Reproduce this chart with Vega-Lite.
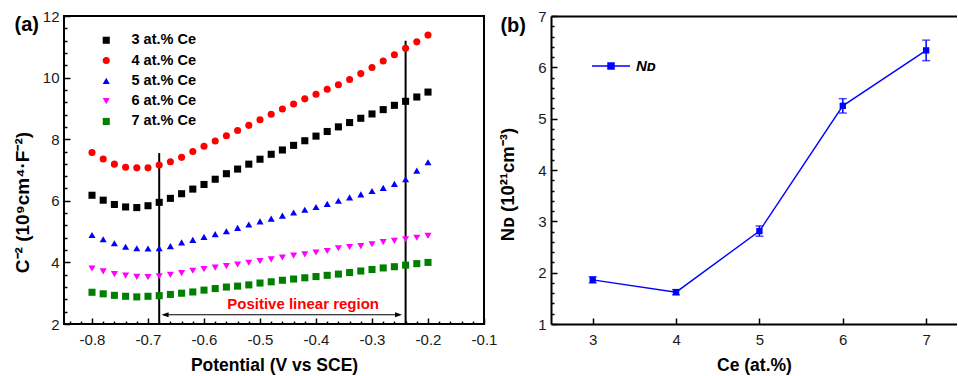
{
  "$schema": "https://vega.github.io/schema/vega-lite/v6.json",
  "padding": {"left": 12, "top": 8, "right": 0, "bottom": 0},
  "autosize": {"type": "pad"},
  "spacing": 0,
  "background": "white",
  "config": {
    "font": "Liberation Sans",
    "axis": {
      "grid": false,
      "domainColor": "#000000",
      "domainWidth": 2,
      "tickColor": "#000000",
      "tickWidth": 1.5,
      "labelFont": "Liberation Sans",
      "labelFontSize": 15,
      "labelColor": "#1a1a1a",
      "titleFont": "Liberation Sans",
      "titleFontSize": 17.5,
      "titleFontWeight": "bold",
      "titleColor": "#000000"
    },
    "legend": {"labelFont": "Liberation Sans", "labelColor": "#000000"}
  },
  "datasets": {
    "cv": [
      {"s": "3 at.% Ce", "v": -0.80, "c": 6.18}, {"s": "3 at.% Ce", "v": -0.78, "c": 6.02}, {"s": "3 at.% Ce", "v": -0.76, "c": 5.88},
      {"s": "3 at.% Ce", "v": -0.74, "c": 5.80}, {"s": "3 at.% Ce", "v": -0.72, "c": 5.78}, {"s": "3 at.% Ce", "v": -0.70, "c": 5.84},
      {"s": "3 at.% Ce", "v": -0.68, "c": 5.95}, {"s": "3 at.% Ce", "v": -0.66, "c": 6.08}, {"s": "3 at.% Ce", "v": -0.64, "c": 6.23},
      {"s": "3 at.% Ce", "v": -0.62, "c": 6.38}, {"s": "3 at.% Ce", "v": -0.60, "c": 6.53}, {"s": "3 at.% Ce", "v": -0.58, "c": 6.70},
      {"s": "3 at.% Ce", "v": -0.56, "c": 6.88}, {"s": "3 at.% Ce", "v": -0.54, "c": 7.03}, {"s": "3 at.% Ce", "v": -0.52, "c": 7.19},
      {"s": "3 at.% Ce", "v": -0.50, "c": 7.35}, {"s": "3 at.% Ce", "v": -0.48, "c": 7.51}, {"s": "3 at.% Ce", "v": -0.46, "c": 7.65},
      {"s": "3 at.% Ce", "v": -0.44, "c": 7.80}, {"s": "3 at.% Ce", "v": -0.42, "c": 7.95}, {"s": "3 at.% Ce", "v": -0.40, "c": 8.10},
      {"s": "3 at.% Ce", "v": -0.38, "c": 8.25}, {"s": "3 at.% Ce", "v": -0.36, "c": 8.40}, {"s": "3 at.% Ce", "v": -0.34, "c": 8.54},
      {"s": "3 at.% Ce", "v": -0.32, "c": 8.68}, {"s": "3 at.% Ce", "v": -0.30, "c": 8.82}, {"s": "3 at.% Ce", "v": -0.28, "c": 8.96},
      {"s": "3 at.% Ce", "v": -0.26, "c": 9.10}, {"s": "3 at.% Ce", "v": -0.24, "c": 9.23}, {"s": "3 at.% Ce", "v": -0.22, "c": 9.37},
      {"s": "3 at.% Ce", "v": -0.20, "c": 9.53},
      {"s": "4 at.% Ce", "v": -0.80, "c": 7.57}, {"s": "4 at.% Ce", "v": -0.78, "c": 7.36}, {"s": "4 at.% Ce", "v": -0.76, "c": 7.19},
      {"s": "4 at.% Ce", "v": -0.74, "c": 7.09}, {"s": "4 at.% Ce", "v": -0.72, "c": 7.07}, {"s": "4 at.% Ce", "v": -0.70, "c": 7.07},
      {"s": "4 at.% Ce", "v": -0.68, "c": 7.16}, {"s": "4 at.% Ce", "v": -0.66, "c": 7.27}, {"s": "4 at.% Ce", "v": -0.64, "c": 7.41},
      {"s": "4 at.% Ce", "v": -0.62, "c": 7.60}, {"s": "4 at.% Ce", "v": -0.60, "c": 7.77}, {"s": "4 at.% Ce", "v": -0.58, "c": 7.94},
      {"s": "4 at.% Ce", "v": -0.56, "c": 8.11}, {"s": "4 at.% Ce", "v": -0.54, "c": 8.28}, {"s": "4 at.% Ce", "v": -0.52, "c": 8.45},
      {"s": "4 at.% Ce", "v": -0.50, "c": 8.63}, {"s": "4 at.% Ce", "v": -0.48, "c": 8.81}, {"s": "4 at.% Ce", "v": -0.46, "c": 8.98},
      {"s": "4 at.% Ce", "v": -0.44, "c": 9.14}, {"s": "4 at.% Ce", "v": -0.42, "c": 9.31}, {"s": "4 at.% Ce", "v": -0.40, "c": 9.46},
      {"s": "4 at.% Ce", "v": -0.38, "c": 9.62}, {"s": "4 at.% Ce", "v": -0.36, "c": 9.77}, {"s": "4 at.% Ce", "v": -0.34, "c": 9.94},
      {"s": "4 at.% Ce", "v": -0.32, "c": 10.13}, {"s": "4 at.% Ce", "v": -0.30, "c": 10.33}, {"s": "4 at.% Ce", "v": -0.28, "c": 10.54},
      {"s": "4 at.% Ce", "v": -0.26, "c": 10.74}, {"s": "4 at.% Ce", "v": -0.24, "c": 10.95}, {"s": "4 at.% Ce", "v": -0.22, "c": 11.16},
      {"s": "4 at.% Ce", "v": -0.20, "c": 11.38},
      {"s": "5 at.% Ce", "v": -0.80, "c": 4.89}, {"s": "5 at.% Ce", "v": -0.78, "c": 4.75}, {"s": "5 at.% Ce", "v": -0.76, "c": 4.62},
      {"s": "5 at.% Ce", "v": -0.74, "c": 4.51}, {"s": "5 at.% Ce", "v": -0.72, "c": 4.46}, {"s": "5 at.% Ce", "v": -0.70, "c": 4.45},
      {"s": "5 at.% Ce", "v": -0.68, "c": 4.46}, {"s": "5 at.% Ce", "v": -0.66, "c": 4.53}, {"s": "5 at.% Ce", "v": -0.64, "c": 4.65},
      {"s": "5 at.% Ce", "v": -0.62, "c": 4.73}, {"s": "5 at.% Ce", "v": -0.60, "c": 4.83}, {"s": "5 at.% Ce", "v": -0.58, "c": 4.92},
      {"s": "5 at.% Ce", "v": -0.56, "c": 5.01}, {"s": "5 at.% Ce", "v": -0.54, "c": 5.12}, {"s": "5 at.% Ce", "v": -0.52, "c": 5.23},
      {"s": "5 at.% Ce", "v": -0.50, "c": 5.33}, {"s": "5 at.% Ce", "v": -0.48, "c": 5.42}, {"s": "5 at.% Ce", "v": -0.46, "c": 5.52},
      {"s": "5 at.% Ce", "v": -0.44, "c": 5.62}, {"s": "5 at.% Ce", "v": -0.42, "c": 5.71}, {"s": "5 at.% Ce", "v": -0.40, "c": 5.80},
      {"s": "5 at.% Ce", "v": -0.38, "c": 5.90}, {"s": "5 at.% Ce", "v": -0.36, "c": 6.00}, {"s": "5 at.% Ce", "v": -0.34, "c": 6.11},
      {"s": "5 at.% Ce", "v": -0.32, "c": 6.21}, {"s": "5 at.% Ce", "v": -0.30, "c": 6.32}, {"s": "5 at.% Ce", "v": -0.28, "c": 6.42},
      {"s": "5 at.% Ce", "v": -0.26, "c": 6.55}, {"s": "5 at.% Ce", "v": -0.24, "c": 6.70}, {"s": "5 at.% Ce", "v": -0.22, "c": 6.98},
      {"s": "5 at.% Ce", "v": -0.20, "c": 7.25},
      {"s": "6 at.% Ce", "v": -0.80, "c": 3.80}, {"s": "6 at.% Ce", "v": -0.78, "c": 3.71}, {"s": "6 at.% Ce", "v": -0.76, "c": 3.62},
      {"s": "6 at.% Ce", "v": -0.74, "c": 3.57}, {"s": "6 at.% Ce", "v": -0.72, "c": 3.53}, {"s": "6 at.% Ce", "v": -0.70, "c": 3.52},
      {"s": "6 at.% Ce", "v": -0.68, "c": 3.55}, {"s": "6 at.% Ce", "v": -0.66, "c": 3.60}, {"s": "6 at.% Ce", "v": -0.64, "c": 3.65},
      {"s": "6 at.% Ce", "v": -0.62, "c": 3.73}, {"s": "6 at.% Ce", "v": -0.60, "c": 3.78}, {"s": "6 at.% Ce", "v": -0.58, "c": 3.83},
      {"s": "6 at.% Ce", "v": -0.56, "c": 3.88}, {"s": "6 at.% Ce", "v": -0.54, "c": 3.93}, {"s": "6 at.% Ce", "v": -0.52, "c": 3.99},
      {"s": "6 at.% Ce", "v": -0.50, "c": 4.04}, {"s": "6 at.% Ce", "v": -0.48, "c": 4.10}, {"s": "6 at.% Ce", "v": -0.46, "c": 4.16},
      {"s": "6 at.% Ce", "v": -0.44, "c": 4.22}, {"s": "6 at.% Ce", "v": -0.42, "c": 4.26}, {"s": "6 at.% Ce", "v": -0.40, "c": 4.32},
      {"s": "6 at.% Ce", "v": -0.38, "c": 4.37}, {"s": "6 at.% Ce", "v": -0.36, "c": 4.46}, {"s": "6 at.% Ce", "v": -0.34, "c": 4.50},
      {"s": "6 at.% Ce", "v": -0.32, "c": 4.53}, {"s": "6 at.% Ce", "v": -0.30, "c": 4.59}, {"s": "6 at.% Ce", "v": -0.28, "c": 4.66},
      {"s": "6 at.% Ce", "v": -0.26, "c": 4.70}, {"s": "6 at.% Ce", "v": -0.24, "c": 4.75}, {"s": "6 at.% Ce", "v": -0.22, "c": 4.80},
      {"s": "6 at.% Ce", "v": -0.20, "c": 4.86},
      {"s": "7 at.% Ce", "v": -0.80, "c": 3.03}, {"s": "7 at.% Ce", "v": -0.78, "c": 2.98}, {"s": "7 at.% Ce", "v": -0.76, "c": 2.93},
      {"s": "7 at.% Ce", "v": -0.74, "c": 2.90}, {"s": "7 at.% Ce", "v": -0.72, "c": 2.88}, {"s": "7 at.% Ce", "v": -0.70, "c": 2.90},
      {"s": "7 at.% Ce", "v": -0.68, "c": 2.92}, {"s": "7 at.% Ce", "v": -0.66, "c": 2.96}, {"s": "7 at.% Ce", "v": -0.64, "c": 3.00},
      {"s": "7 at.% Ce", "v": -0.62, "c": 3.04}, {"s": "7 at.% Ce", "v": -0.60, "c": 3.10}, {"s": "7 at.% Ce", "v": -0.58, "c": 3.15},
      {"s": "7 at.% Ce", "v": -0.56, "c": 3.20}, {"s": "7 at.% Ce", "v": -0.54, "c": 3.23}, {"s": "7 at.% Ce", "v": -0.52, "c": 3.27},
      {"s": "7 at.% Ce", "v": -0.50, "c": 3.33}, {"s": "7 at.% Ce", "v": -0.48, "c": 3.37}, {"s": "7 at.% Ce", "v": -0.46, "c": 3.42},
      {"s": "7 at.% Ce", "v": -0.44, "c": 3.46}, {"s": "7 at.% Ce", "v": -0.42, "c": 3.50}, {"s": "7 at.% Ce", "v": -0.40, "c": 3.54},
      {"s": "7 at.% Ce", "v": -0.38, "c": 3.58}, {"s": "7 at.% Ce", "v": -0.36, "c": 3.62}, {"s": "7 at.% Ce", "v": -0.34, "c": 3.67},
      {"s": "7 at.% Ce", "v": -0.32, "c": 3.72}, {"s": "7 at.% Ce", "v": -0.30, "c": 3.77}, {"s": "7 at.% Ce", "v": -0.28, "c": 3.82},
      {"s": "7 at.% Ce", "v": -0.26, "c": 3.86}, {"s": "7 at.% Ce", "v": -0.24, "c": 3.91}, {"s": "7 at.% Ce", "v": -0.22, "c": 3.96},
      {"s": "7 at.% Ce", "v": -0.20, "c": 4.00}
    ],
    "nd": [
      {"k": "Nᴅ", "ce": 3, "nd": 1.86, "lo": 1.80, "hi": 1.92},
      {"k": "Nᴅ", "ce": 4, "nd": 1.62, "lo": 1.57, "hi": 1.67},
      {"k": "Nᴅ", "ce": 5, "nd": 2.81, "lo": 2.71, "hi": 2.91},
      {"k": "Nᴅ", "ce": 6, "nd": 5.25, "lo": 5.11, "hi": 5.39},
      {"k": "Nᴅ", "ce": 7, "nd": 6.33, "lo": 6.13, "hi": 6.53}
    ]
  },
  "hconcat": [
    {
      "width": 420,
      "height": 308,
      "view": {"stroke": "#000000", "strokeWidth": 2},
      "resolve": {"axis": {"x": "independent", "y": "independent"}},
      "layer": [
        {
          "data": {"values": [{"x": -0.68, "y0": 2, "y1": 7.55}, {"x": -0.24, "y0": 2, "y1": 11.2}]},
          "mark": {"type": "rule", "color": "#000000", "strokeWidth": 2},
          "encoding": {
            "x": {
              "field": "x", "type": "quantitative",
              "scale": {"domain": [-0.85, -0.1], "nice": false, "zero": false},
              "axis": {
                "orient": "bottom",
                "title": "Potential (V vs SCE)",
                "titlePadding": 9,
                "values": [-0.8, -0.7, -0.6, -0.5, -0.4, -0.3, -0.2, -0.1],
                "labelExpr": "replace(format(datum.value, '.1f'), '\u2212', '-')",
                "domain": false,
                "tickSize": 6,
                "offset": -6,
                "labelPadding": 8,
                "labelFlush": false,
                "labelOverlap": false
              }
            },
            "y": {
              "field": "y0", "type": "quantitative",
              "scale": {"domain": [2, 12], "nice": false, "zero": false},
              "axis": {
                "orient": "left",
                "title": "C⁻² (10⁹cm⁴·F⁻²)",
                "titleFontSize": 19,
                "titleY": 186,
                "titlePadding": 10,
                "values": [2, 4, 6, 8, 10, 12],
                "domain": false,
                "tickSize": 6,
                "offset": -6,
                "labelPadding": 5,
                "labelFlush": false,
                "labelOverlap": false
              }
            },
            "y2": {"field": "y1"}
          }
        },
        {
          "data": {"values": [{"x0": -0.672, "x1": -0.25, "y": 2.3}]},
          "mark": {"type": "rule", "color": "#000000", "strokeWidth": 1.2},
          "encoding": {
            "x": {
              "field": "x0", "type": "quantitative",
              "axis": {
                "orient": "bottom", "title": null, "labels": false, "domain": false,
                "values": [-0.84,-0.82,-0.78,-0.76,-0.74,-0.72,-0.68,-0.66,-0.64,-0.62,-0.58,-0.56,-0.54,-0.52,-0.48,-0.46,-0.44,-0.42,-0.38,-0.36,-0.34,-0.32,-0.28,-0.26,-0.24,-0.22,-0.18,-0.16,-0.14,-0.12],
                "tickSize": 3, "offset": -3
              }
            },
            "x2": {"field": "x1"},
            "y": {
              "field": "y", "type": "quantitative",
              "axis": {
                "orient": "left", "title": null, "labels": false, "domain": false,
                "values": [2.4,2.8,3.2,3.6,4.4,4.8,5.2,5.6,6.4,6.8,7.2,7.6,8.4,8.8,9.2,9.6,10.4,10.8,11.2,11.6],
                "tickSize": 3, "offset": -3
              }
            }
          }
        },
        {
          "data": {"values": [{"x": -0.6758, "y": 2.3}]},
          "mark": {"type": "point", "shape": "M0,0L1,-0.35L1,0.35Z", "size": 196, "filled": true, "color": "#000000", "opacity": 1},
          "encoding": {
            "x": {"field": "x", "type": "quantitative", "axis": null},
            "y": {"field": "y", "type": "quantitative", "axis": null}
          }
        },
        {
          "data": {"values": [{"x": -0.2464, "y": 2.3}]},
          "mark": {"type": "point", "shape": "M0,0L-1,-0.35L-1,0.35Z", "size": 196, "filled": true, "color": "#000000", "opacity": 1},
          "encoding": {
            "x": {"field": "x", "type": "quantitative", "axis": null},
            "y": {"field": "y", "type": "quantitative", "axis": null}
          }
        },
        {
          "data": {"values": [{"x": -0.423, "y": 2.66, "t": "Positive linear region"}]},
          "mark": {"type": "text", "color": "#ff0000", "font": "Liberation Sans", "fontSize": 15, "fontWeight": "bold", "align": "center", "baseline": "middle"},
          "encoding": {
            "x": {"field": "x", "type": "quantitative", "axis": null},
            "y": {"field": "y", "type": "quantitative", "axis": null},
            "text": {"field": "t"}
          }
        },
        {
          "data": {"name": "cv"},
          "mark": {"type": "point", "filled": true, "size": 50, "opacity": 1},
          "encoding": {
            "x": {"field": "v", "type": "quantitative", "axis": null},
            "y": {"field": "c", "type": "quantitative", "axis": null},
            "color": {
              "field": "s", "type": "nominal",
              "scale": {"domain": ["3 at.% Ce", "4 at.% Ce", "5 at.% Ce", "6 at.% Ce", "7 at.% Ce"], "range": ["#000000", "#ff0000", "#0000ff", "#ff00ff", "#008000"]},
              "legend": {
                "orient": "none", "legendX": 35, "legendY": 17, "title": null,
                "labelFontSize": 14.5, "labelFontWeight": "bold", "labelOffset": 18,
                "symbolSize": 50, "rowPadding": 5.3, "symbolStrokeWidth": 0
              }
            },
            "shape": {
              "field": "s", "type": "nominal",
              "scale": {"domain": ["3 at.% Ce", "4 at.% Ce", "5 at.% Ce", "6 at.% Ce", "7 at.% Ce"], "range": ["square", "circle", "triangle-up", "triangle-down", "square"]}
            }
          }
        },
        {
          "data": {"values": [{"x": -0.85, "y": 12, "t": "(a)"}]},
          "mark": {"type": "text", "font": "Liberation Sans", "fontSize": 20, "fontWeight": "bold", "align": "right", "baseline": "middle", "dx": -25, "dy": 9, "color": "#000000"},
          "encoding": {
            "x": {"field": "x", "type": "quantitative", "axis": null},
            "y": {"field": "y", "type": "quantitative", "axis": null},
            "text": {"field": "t"}
          }
        }
      ]
    },
    {
      "width": 406,
      "height": 308,
      "view": {"stroke": null},
      "data": {"name": "nd"},
      "resolve": {"axis": {"x": "independent", "y": "independent"}},
      "layer": [
        {
          "mark": {"type": "line", "strokeWidth": 1.4},
          "encoding": {
            "x": {
              "field": "ce", "type": "quantitative",
              "scale": {"domain": [2.5, 7.37], "nice": false, "zero": false},
              "axis": {
                "orient": "bottom",
                "title": "Ce (at.%)",
                "titlePadding": 9,
                "values": [3, 4, 5, 6, 7],
                "domain": false,
                "tickSize": 6,
                "offset": -6,
                "labelPadding": 8,
                "labelFlush": false
              }
            },
            "y": {
              "field": "nd", "type": "quantitative",
              "scale": {"domain": [1, 7], "nice": false, "zero": false},
              "axis": {
                "orient": "left",
                "title": "Nᴅ (10²¹cm⁻³)",
                "titleFontSize": 18.5,
                "titleY": 168,
                "titlePadding": 20,
                "values": [1, 2, 3, 4, 5, 6, 7],
                "domain": false,
                "tickSize": 6,
                "offset": -6,
                "labelPadding": 5,
                "labelFlush": false,
                "labelOverlap": false
              }
            },
            "color": {
              "field": "k", "type": "nominal",
              "scale": {"range": ["#0000ff"]},
              "legend": {
                "orient": "none", "legendX": 40, "legendY": 30, "title": null,
                "symbolType": "M-1,0H1M-0.16,-0.16H0.16V0.16H-0.16Z",
                "symbolSize": 1444, "symbolStrokeWidth": 1.4,
                "symbolFillColor": "#0000ff", "symbolStrokeColor": "#0000ff",
                "labelFontSize": 15, "labelFontWeight": "bold", "labelFontStyle": "italic", "labelOffset": 5
              }
            }
          }
        },
        {
          "mark": {"type": "errorbar", "color": "#0000ff", "ticks": {"size": 8, "thickness": 1.5}, "rule": {"strokeWidth": 1.5}},
          "encoding": {
            "x": {
              "field": "ce", "type": "quantitative",
              "axis": {"orient": "top", "title": null, "labels": false, "ticks": false, "domain": true}
            },
            "y": {
              "field": "lo", "type": "quantitative",
              "axis": {
                "orient": "left", "title": null, "labels": false, "domain": false,
                "values": [1.2,1.4,1.6,1.8,2.2,2.4,2.6,2.8,3.2,3.4,3.6,3.8,4.2,4.4,4.6,4.8,5.2,5.4,5.6,5.8,6.2,6.4,6.6,6.8],
                "tickSize": 3, "offset": -3
              }
            },
            "y2": {"field": "hi"}
          }
        },
        {
          "mark": {"type": "point", "shape": "square", "filled": true, "size": 40, "color": "#0000ff", "opacity": 1},
          "encoding": {
            "x": {
              "field": "ce", "type": "quantitative",
              "axis": {"orient": "bottom", "title": null, "labels": false, "ticks": false, "domain": true}
            },
            "y": {
              "field": "nd", "type": "quantitative",
              "axis": {"orient": "left", "title": null, "labels": false, "ticks": false, "domain": true}
            }
          }
        },
        {
          "data": {"values": [{"x": 2.5, "y": 7, "t": "(b)"}]},
          "mark": {"type": "text", "font": "Liberation Sans", "fontSize": 20, "fontWeight": "bold", "align": "right", "baseline": "middle", "dx": -25, "dy": 10, "color": "#000000"},
          "encoding": {
            "x": {"field": "x", "type": "quantitative", "axis": null},
            "y": {"field": "y", "type": "quantitative", "axis": null},
            "text": {"field": "t"}
          }
        }
      ]
    }
  ],
  "resolve": {"scale": {"color": "independent", "shape": "independent"}, "legend": {"color": "independent", "shape": "independent"}}
}
